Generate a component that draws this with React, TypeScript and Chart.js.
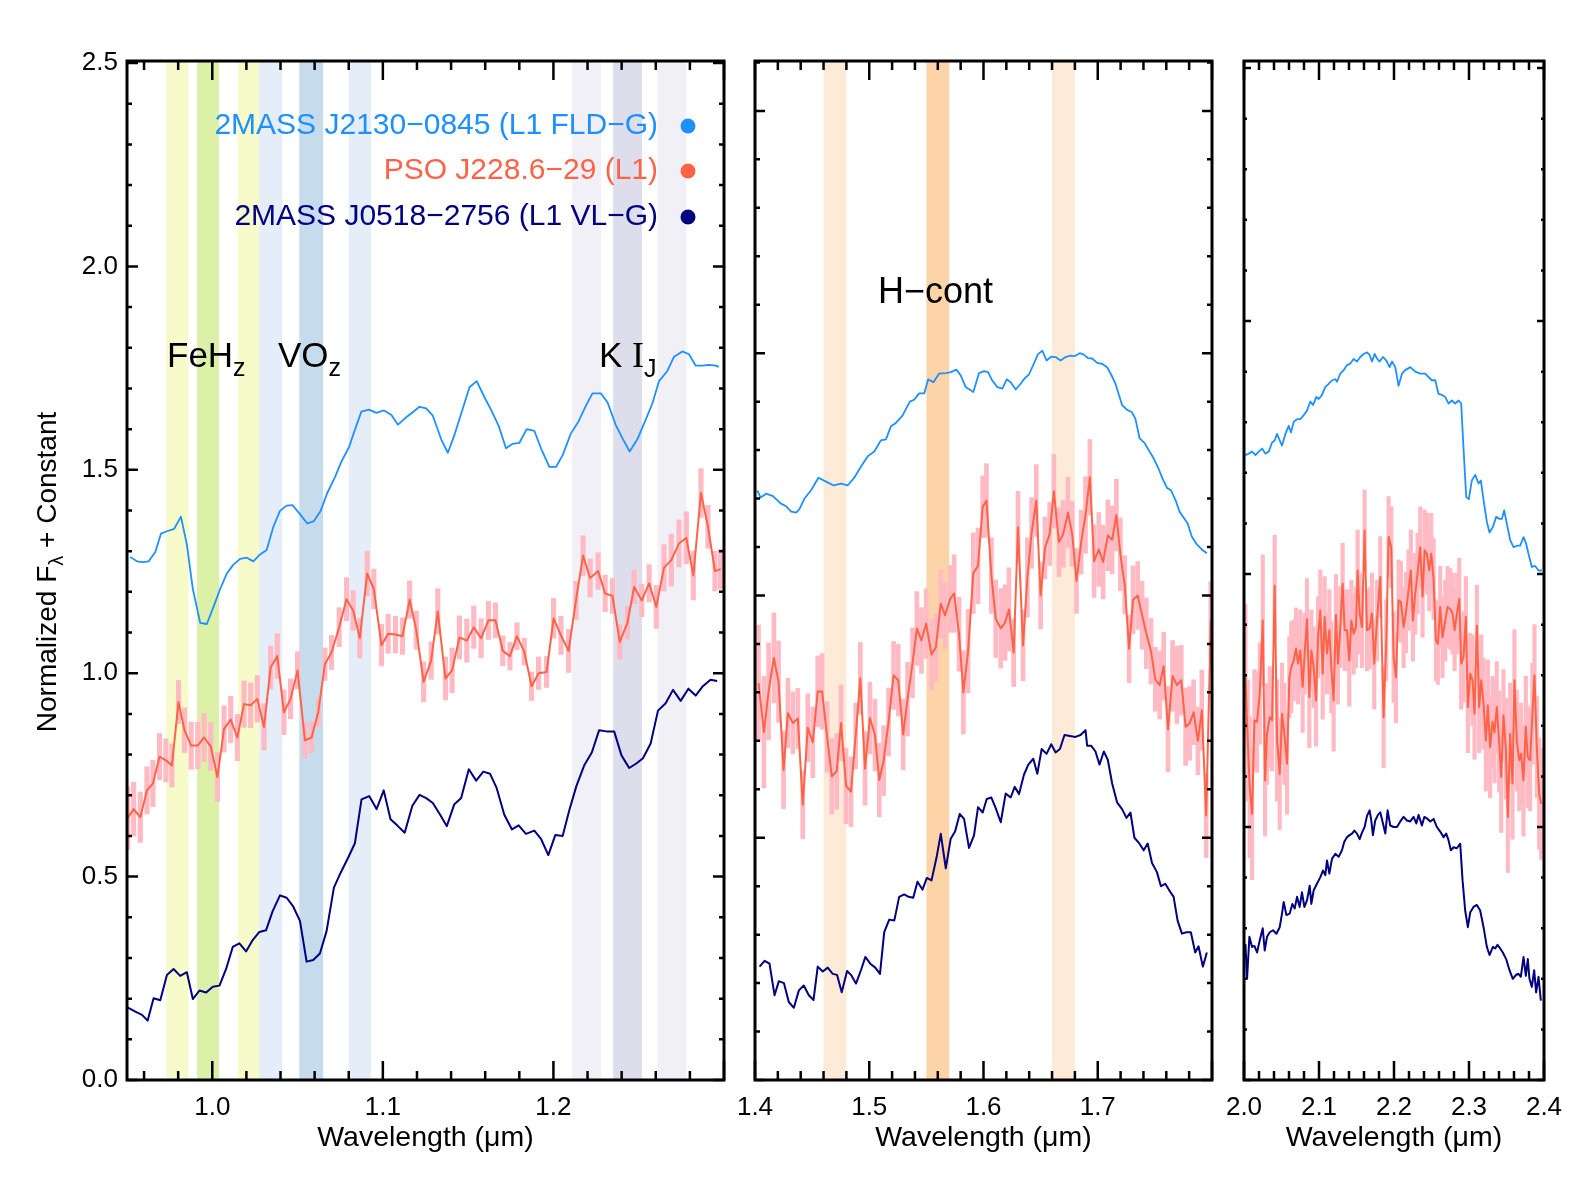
import React, { useEffect, useRef } from 'react';
import { Chart, registerables } from 'chart.js';

Chart.register(...registerables);

// ---------------------------------------------------------------------------
// Spectra: [wavelength (µm), normalized flux + offset]  (red adds [.., error])
// ---------------------------------------------------------------------------

// z/J band, 0.95 - 1.30 µm
const P1_BLUE: number[][] = [
  [0.9519, 1.286], [0.9558, 1.275], [0.9593, 1.273], [0.9627, 1.275], [0.9666, 1.298], [0.9699, 1.343], [0.9734, 1.349], [0.9777, 1.355],
  [0.9816, 1.385], [0.9851, 1.316], [0.9886, 1.207], [0.9929, 1.124], [0.9968, 1.121], [1.0007, 1.163], [1.0046, 1.207], [1.0085, 1.245],
  [1.0124, 1.267], [1.0163, 1.281], [1.0202, 1.284], [1.0241, 1.275], [1.028, 1.292], [1.0319, 1.303], [1.0358, 1.36], [1.0397, 1.399],
  [1.0436, 1.412], [1.0471, 1.413], [1.0514, 1.391], [1.0557, 1.368], [1.0596, 1.374], [1.0635, 1.399], [1.0674, 1.443], [1.0718, 1.481],
  [1.0757, 1.52], [1.0802, 1.556], [1.0835, 1.597], [1.0874, 1.643], [1.0919, 1.648], [1.0962, 1.64], [1.1007, 1.646], [1.105, 1.635],
  [1.1089, 1.611], [1.1128, 1.626], [1.1173, 1.641], [1.1215, 1.655], [1.1254, 1.651], [1.1293, 1.633], [1.1342, 1.575], [1.1381, 1.542],
  [1.142, 1.586], [1.1465, 1.646], [1.1508, 1.703], [1.155, 1.718], [1.1595, 1.679], [1.1634, 1.648], [1.1679, 1.608], [1.1722, 1.553],
  [1.1761, 1.564], [1.18, 1.566], [1.1843, 1.6], [1.1888, 1.596], [1.1927, 1.553], [1.1976, 1.507], [1.2015, 1.507], [1.2054, 1.536],
  [1.2102, 1.589], [1.2147, 1.619], [1.219, 1.657], [1.2229, 1.688], [1.2278, 1.688], [1.2317, 1.666], [1.2366, 1.61], [1.2408, 1.575],
  [1.2447, 1.545], [1.2492, 1.575], [1.2537, 1.619], [1.258, 1.663], [1.2619, 1.718], [1.2668, 1.743], [1.2707, 1.778], [1.2756, 1.791],
  [1.2795, 1.784], [1.2834, 1.756], [1.2873, 1.756], [1.2912, 1.758], [1.2951, 1.756], [1.297, 1.753],
];

const P1_RED: number[][] = [
  [0.9504, 0.644, 0.077], [0.9539, 0.666, 0.066], [0.9578, 0.646, 0.062], [0.9617, 0.712, 0.058], [0.9652, 0.729, 0.057],
  [0.9691, 0.795, 0.057], [0.9728, 0.786, 0.053], [0.9763, 0.773, 0.053], [0.9802, 0.929, 0.053], [0.9837, 0.86, 0.055],
  [0.9876, 0.822, 0.058], [0.9915, 0.822, 0.057], [0.9952, 0.842, 0.059], [0.9991, 0.82, 0.059], [1.003, 0.745, 0.06],
  [1.0069, 0.863, 0.057], [1.0108, 0.886, 0.057], [1.0147, 0.842, 0.057], [1.0186, 0.924, 0.057], [1.0225, 0.921, 0.055],
  [1.0264, 0.937, 0.057], [1.0303, 0.868, 0.057], [1.0342, 1.014, 0.053], [1.0381, 1.042, 0.055], [1.042, 0.904, 0.055],
  [1.0459, 0.937, 0.049], [1.05, 1.007, 0.046], [1.0543, 0.835, 0.044], [1.0582, 0.842, 0.038], [1.0621, 0.904, 0.035],
  [1.066, 1.022, 0.04], [1.0699, 1.051, 0.042], [1.0744, 1.113, 0.048], [1.0787, 1.182, 0.053], [1.0826, 1.154, 0.049],
  [1.0865, 1.086, 0.049], [1.0908, 1.245, 0.055], [1.0947, 1.207, 0.049], [1.0992, 1.069, 0.051], [1.1031, 1.097, 0.048],
  [1.1074, 1.095, 0.045], [1.1115, 1.091, 0.045], [1.1157, 1.181, 0.046], [1.1196, 1.106, 0.047], [1.1239, 0.979, 0.049],
  [1.1283, 1.031, 0.046], [1.1322, 1.152, 0.056], [1.1367, 0.987, 0.053], [1.1406, 1.007, 0.055], [1.1449, 1.088, 0.053],
  [1.1492, 1.08, 0.053], [1.1533, 1.113, 0.052], [1.1576, 1.086, 0.048], [1.1619, 1.13, 0.047], [1.166, 1.13, 0.043],
  [1.1703, 1.055, 0.037], [1.1745, 1.042, 0.034], [1.1786, 1.091, 0.033], [1.1829, 1.053, 0.033], [1.1872, 0.968, 0.035],
  [1.1913, 1.0, 0.04], [1.196, 1.003, 0.038], [1.2001, 1.135, 0.049], [1.2044, 1.093, 0.047], [1.2089, 1.055, 0.053],
  [1.2132, 1.179, 0.047], [1.2174, 1.289, 0.049], [1.2215, 1.234, 0.047], [1.2262, 1.251, 0.045], [1.2303, 1.196, 0.045],
  [1.2346, 1.19, 0.043], [1.2389, 1.077, 0.043], [1.2434, 1.124, 0.04], [1.2473, 1.212, 0.041], [1.2518, 1.179, 0.04],
  [1.2561, 1.221, 0.046], [1.2603, 1.163, 0.053], [1.2648, 1.259, 0.057], [1.2691, 1.278, 0.064], [1.2736, 1.319, 0.058],
  [1.2779, 1.333, 0.064], [1.282, 1.24, 0.06], [1.2865, 1.443, 0.06], [1.2906, 1.36, 0.053], [1.2947, 1.251, 0.049],
  [1.298, 1.256, 0.049],
];

const P1_NAVY: number[][] = [
  [0.95, 0.179], [0.9549, 0.168], [0.9588, 0.16], [0.9621, 0.146], [0.9656, 0.201], [0.9695, 0.196], [0.9734, 0.258], [0.9773, 0.273],
  [0.9812, 0.256], [0.9851, 0.265], [0.9886, 0.199], [0.9925, 0.22], [0.9964, 0.215], [1.0003, 0.229], [1.0042, 0.232], [1.0081, 0.273],
  [1.012, 0.327], [1.0159, 0.336], [1.0198, 0.316], [1.0237, 0.344], [1.0276, 0.364], [1.0315, 0.368], [1.0354, 0.415], [1.0397, 0.454],
  [1.0436, 0.448], [1.0475, 0.426], [1.0514, 0.391], [1.0553, 0.291], [1.0592, 0.295], [1.0631, 0.311], [1.067, 0.366], [1.0713, 0.473],
  [1.0752, 0.509], [1.0797, 0.547], [1.0836, 0.582], [1.0875, 0.69], [1.092, 0.698], [1.0963, 0.666], [1.1005, 0.712], [1.1045, 0.641],
  [1.1084, 0.626], [1.1128, 0.608], [1.1173, 0.674], [1.1215, 0.701], [1.1254, 0.693], [1.1293, 0.681], [1.1336, 0.652], [1.1375, 0.624],
  [1.1418, 0.677], [1.1459, 0.693], [1.1504, 0.764], [1.1547, 0.736], [1.1589, 0.758], [1.1628, 0.753], [1.1667, 0.718], [1.1712, 0.652],
  [1.1757, 0.616], [1.1796, 0.626], [1.1839, 0.605], [1.1888, 0.613], [1.1927, 0.593], [1.197, 0.553], [1.2011, 0.602], [1.2054, 0.6],
  [1.2093, 0.663], [1.2135, 0.723], [1.218, 0.773], [1.2225, 0.805], [1.2268, 0.86], [1.2311, 0.857], [1.2356, 0.857], [1.2399, 0.798],
  [1.2444, 0.767], [1.2486, 0.778], [1.2525, 0.791], [1.257, 0.827], [1.2613, 0.908], [1.2658, 0.926], [1.2701, 0.959], [1.2746, 0.932],
  [1.2791, 0.962], [1.2834, 0.945], [1.2876, 0.968], [1.2921, 0.984], [1.296, 0.981],
];

// H band, 1.4 - 1.8 µm
const P2_BLUE: number[][] = [
  [1.402, 1.217], [1.4049, 1.202], [1.4098, 1.21], [1.4157, 1.205], [1.4224, 1.19], [1.4273, 1.184], [1.4317, 1.173], [1.436, 1.171],
  [1.4389, 1.178], [1.4433, 1.2], [1.4491, 1.217], [1.4555, 1.243], [1.4622, 1.235], [1.4689, 1.227], [1.4753, 1.231], [1.4811, 1.227],
  [1.4869, 1.243], [1.4928, 1.266], [1.4986, 1.287], [1.5044, 1.297], [1.5102, 1.32], [1.5146, 1.322], [1.519, 1.349], [1.5233, 1.356],
  [1.5291, 1.371], [1.5355, 1.4], [1.5393, 1.404], [1.5437, 1.417], [1.5481, 1.417], [1.5516, 1.446], [1.5562, 1.44], [1.5612, 1.458],
  [1.567, 1.459], [1.5713, 1.461], [1.5763, 1.466], [1.5801, 1.454], [1.5844, 1.43], [1.5911, 1.42], [1.5961, 1.459], [1.6005, 1.463],
  [1.604, 1.461], [1.6078, 1.443], [1.6122, 1.43], [1.6165, 1.427], [1.6203, 1.446], [1.6238, 1.44], [1.6282, 1.425], [1.6325, 1.437],
  [1.636, 1.448], [1.6398, 1.456], [1.6442, 1.479], [1.6477, 1.498], [1.6515, 1.505], [1.6552, 1.485], [1.6593, 1.493], [1.6631, 1.492],
  [1.6675, 1.485], [1.6718, 1.492], [1.6762, 1.495], [1.68, 1.494], [1.6843, 1.5], [1.6878, 1.497], [1.6913, 1.49], [1.6951, 1.489],
  [1.6995, 1.48], [1.7038, 1.478], [1.7082, 1.471], [1.7117, 1.456], [1.7155, 1.437], [1.7213, 1.393], [1.7257, 1.383], [1.73, 1.378],
  [1.7329, 1.365], [1.7367, 1.324], [1.7408, 1.315], [1.7446, 1.3], [1.7489, 1.283], [1.7533, 1.261], [1.7571, 1.239], [1.7606, 1.222],
  [1.7641, 1.217], [1.7679, 1.198], [1.7716, 1.173], [1.7757, 1.159], [1.7786, 1.149], [1.7824, 1.121], [1.7868, 1.105], [1.7911, 1.095],
  [1.7955, 1.087],
];

const P2_RED: number[][] = [
  [1.4031, 0.819, 0.12], [1.4078, 0.718, 0.115], [1.4119, 0.802, 0.1], [1.4165, 0.871, 0.093], [1.4206, 0.822, 0.084],
  [1.425, 0.64, 0.08], [1.4288, 0.757, 0.072], [1.4331, 0.737, 0.064], [1.4375, 0.746, 0.062], [1.4418, 0.568, 0.07],
  [1.4462, 0.727, 0.07], [1.4506, 0.697, 0.073], [1.4549, 0.802, 0.073], [1.4587, 0.802, 0.078], [1.4631, 0.708, 0.073],
  [1.4672, 0.627, 0.078], [1.4715, 0.637, 0.078], [1.4753, 0.737, 0.078], [1.4797, 0.607, 0.078], [1.484, 0.595, 0.072],
  [1.4881, 0.71, 0.068], [1.4922, 0.829, 0.074], [1.4963, 0.643, 0.076], [1.5006, 0.747, 0.074], [1.505, 0.712, 0.074],
  [1.5088, 0.619, 0.076], [1.5126, 0.659, 0.072], [1.5169, 0.739, 0.07], [1.5213, 0.835, 0.07], [1.5254, 0.825, 0.074],
  [1.5297, 0.713, 0.073], [1.5335, 0.786, 0.076], [1.5379, 0.861, 0.072], [1.5417, 0.932, 0.076], [1.5457, 0.907, 0.068],
  [1.5498, 0.942, 0.072], [1.5545, 0.878, 0.073], [1.5583, 0.893, 0.07], [1.5626, 0.983, 0.07], [1.5664, 0.959, 0.068],
  [1.5708, 0.993, 0.069], [1.5743, 1.004, 0.08], [1.5786, 0.92, 0.076], [1.5824, 0.8, 0.086], [1.5865, 0.885, 0.086],
  [1.5911, 1.046, 0.083], [1.5952, 1.061, 0.078], [1.5993, 1.183, 0.064], [1.6026, 1.196, 0.076], [1.6069, 1.041, 0.078],
  [1.6107, 0.952, 0.08], [1.6151, 0.932, 0.082], [1.6189, 0.944, 0.078], [1.6223, 0.971, 0.086], [1.6264, 0.882, 0.07],
  [1.6302, 1.141, 0.074], [1.6346, 0.897, 0.073], [1.6384, 1.037, 0.082], [1.6421, 1.129, 0.073], [1.6462, 1.196, 0.074],
  [1.65, 1.0, 0.069], [1.6538, 1.098, 0.064], [1.6579, 1.127, 0.065], [1.6616, 1.215, 0.076], [1.666, 1.11, 0.071],
  [1.6698, 1.127, 0.069], [1.6739, 1.171, 0.073], [1.6776, 1.127, 0.067], [1.6814, 1.03, 0.067], [1.6855, 1.11, 0.066],
  [1.6893, 1.166, 0.079], [1.6931, 1.244, 0.078], [1.6968, 1.071, 0.075], [1.7009, 1.095, 0.076], [1.7047, 1.069, 0.076],
  [1.7088, 1.124, 0.073], [1.7126, 1.115, 0.07], [1.7163, 1.166, 0.074], [1.7198, 1.085, 0.075], [1.7236, 1.022, 0.06],
  [1.7274, 0.89, 0.07], [1.7309, 0.991, 0.07], [1.735, 1.0, 0.07], [1.7388, 0.959, 0.07], [1.7425, 0.922, 0.073],
  [1.7466, 0.885, 0.068], [1.7504, 0.827, 0.066], [1.7542, 0.815, 0.07], [1.7577, 0.854, 0.07], [1.7615, 0.724, 0.088],
  [1.7655, 0.834, 0.073], [1.7693, 0.815, 0.08], [1.7731, 0.825, 0.072], [1.7769, 0.729, 0.08], [1.7804, 0.736, 0.076],
  [1.7839, 0.759, 0.067], [1.7877, 0.7, 0.07], [1.7911, 0.763, 0.083], [1.7949, 0.546, 0.087], [1.799, 0.95, 0.078],
];

const P2_NAVY: number[][] = [
  [1.404, 0.234], [1.4084, 0.246], [1.4127, 0.24], [1.4171, 0.175], [1.4209, 0.204], [1.4253, 0.2], [1.4296, 0.161], [1.434, 0.149],
  [1.4384, 0.185], [1.4427, 0.195], [1.4471, 0.175], [1.4512, 0.165], [1.4549, 0.234], [1.4593, 0.224], [1.4637, 0.232], [1.468, 0.219],
  [1.4718, 0.217], [1.4759, 0.181], [1.4806, 0.225], [1.484, 0.217], [1.4884, 0.199], [1.4928, 0.227], [1.4966, 0.254], [1.5009, 0.24],
  [1.5053, 0.232], [1.5094, 0.219], [1.5131, 0.305], [1.5175, 0.331], [1.5219, 0.329], [1.5262, 0.378], [1.5306, 0.383], [1.5344, 0.378],
  [1.5385, 0.376], [1.5422, 0.409], [1.5466, 0.393], [1.5504, 0.417], [1.5545, 0.412], [1.5588, 0.458], [1.5626, 0.508], [1.567, 0.437],
  [1.5713, 0.498], [1.5751, 0.513], [1.5792, 0.549], [1.583, 0.539], [1.5873, 0.479], [1.5917, 0.505], [1.5952, 0.563], [1.5993, 0.552],
  [1.6028, 0.58], [1.6069, 0.583], [1.6107, 0.561], [1.6151, 0.532], [1.6194, 0.591], [1.6238, 0.583], [1.6273, 0.605], [1.6311, 0.59],
  [1.6354, 0.63], [1.6392, 0.651], [1.6436, 0.663], [1.6471, 0.632], [1.6509, 0.683], [1.6552, 0.673], [1.6593, 0.693], [1.6631, 0.676],
  [1.6669, 0.683], [1.6709, 0.712], [1.6756, 0.71], [1.6805, 0.708], [1.6849, 0.712], [1.6893, 0.722], [1.6907, 0.69], [1.6942, 0.69],
  [1.698, 0.678], [1.7015, 0.651], [1.7053, 0.678], [1.7088, 0.661], [1.7126, 0.612], [1.7169, 0.573], [1.7213, 0.559], [1.7251, 0.541],
  [1.7286, 0.552], [1.7321, 0.5], [1.7358, 0.49], [1.7402, 0.474], [1.7437, 0.488], [1.7475, 0.448], [1.7518, 0.429], [1.7553, 0.4],
  [1.7591, 0.405], [1.7635, 0.388], [1.7664, 0.378], [1.7699, 0.329], [1.7737, 0.302], [1.7775, 0.305], [1.7815, 0.305], [1.7853, 0.263],
  [1.7882, 0.276], [1.792, 0.234], [1.7955, 0.263],
];

// K band, 2.0 - 2.4 µm
const P3_BLUE: number[][] = [
  [2.0019, 1.235], [2.0063, 1.238], [2.0108, 1.242], [2.0152, 1.235], [2.0196, 1.242], [2.0241, 1.248], [2.0285, 1.238], [2.033, 1.242],
  [2.0374, 1.26], [2.0409, 1.264], [2.0441, 1.277], [2.0476, 1.264], [2.0507, 1.254], [2.0552, 1.277], [2.0596, 1.293], [2.0627, 1.28],
  [2.0663, 1.301], [2.0707, 1.306], [2.0751, 1.306], [2.0796, 1.314], [2.084, 1.323], [2.0885, 1.341], [2.092, 1.334], [2.0965, 1.35],
  [2.0996, 1.346], [2.104, 1.354], [2.1084, 1.37], [2.1129, 1.376], [2.1173, 1.383], [2.1218, 1.385], [2.124, 1.38], [2.1284, 1.396],
  [2.1329, 1.403], [2.1373, 1.413], [2.1417, 1.416], [2.1462, 1.425], [2.1506, 1.42], [2.1551, 1.429], [2.1595, 1.435], [2.164, 1.438],
  [2.1675, 1.433], [2.1706, 1.42], [2.1742, 1.435], [2.1773, 1.426], [2.1808, 1.42], [2.1853, 1.429], [2.1897, 1.422], [2.1942, 1.409],
  [2.1973, 1.42], [2.2017, 1.409], [2.2061, 1.372], [2.2106, 1.396], [2.215, 1.403], [2.2217, 1.409], [2.2283, 1.4], [2.235, 1.396],
  [2.2417, 1.396], [2.2461, 1.389], [2.2505, 1.383], [2.255, 1.383], [2.2594, 1.356], [2.2639, 1.354], [2.2683, 1.35], [2.2727, 1.337],
  [2.2772, 1.343], [2.2816, 1.337], [2.2861, 1.343], [2.2896, 1.337], [2.2927, 1.248], [2.2963, 1.152], [2.2998, 1.148], [2.3038, 1.185],
  [2.3083, 1.196], [2.3127, 1.179], [2.3158, 1.185], [2.3194, 1.146], [2.3238, 1.103], [2.3274, 1.082], [2.3318, 1.093], [2.3362, 1.113],
  [2.3407, 1.109], [2.3438, 1.109], [2.3469, 1.126], [2.3505, 1.099], [2.3549, 1.067], [2.3594, 1.053], [2.3638, 1.056], [2.3682, 1.056],
  [2.3727, 1.073], [2.3762, 1.06], [2.3793, 1.04], [2.3838, 1.014], [2.3882, 1.016], [2.3927, 1.007], [2.3971, 1.007],
];

const P3_RED: number[][] = [
  [2.0019, 0.8, 0.14], [2.005, 0.671, 0.12], [2.0076, 0.579, 0.14], [2.0108, 0.526, 0.13], [2.0139, 0.711, 0.1], [2.0174, 0.708, 0.1],
  [2.021, 0.764, 0.1], [2.025, 0.908, 0.13], [2.0281, 0.592, 0.11], [2.0307, 0.684, 0.1], [2.0343, 0.717, 0.1], [2.0374, 0.711, 0.1],
  [2.0409, 0.977, 0.1], [2.0441, 0.671, 0.12], [2.0476, 0.605, 0.11], [2.0507, 0.724, 0.1], [2.0538, 0.684, 0.1], [2.0574, 0.625, 0.1],
  [2.0605, 0.796, 0.08], [2.0631, 0.816, 0.09], [2.0663, 0.829, 0.08], [2.0694, 0.853, 0.08], [2.072, 0.823, 0.08], [2.0751, 0.849, 0.08],
  [2.0782, 0.777, 0.09], [2.0809, 0.843, 0.08], [2.084, 0.911, 0.08], [2.0871, 0.757, 0.1], [2.0898, 0.849, 0.08], [2.0929, 0.816, 0.08],
  [2.096, 0.75, 0.09], [2.0987, 0.875, 0.08], [2.1018, 0.928, 0.08], [2.1049, 0.803, 0.09], [2.1075, 0.915, 0.08], [2.1107, 0.843, 0.08],
  [2.1138, 0.889, 0.08], [2.1164, 0.816, 0.09], [2.1195, 0.75, 0.1], [2.1226, 0.919, 0.08], [2.1253, 0.823, 0.08], [2.1284, 0.895, 0.08],
  [2.1315, 0.981, 0.08], [2.1342, 0.889, 0.08], [2.1373, 0.889, 0.08], [2.1404, 0.829, 0.09], [2.1431, 0.908, 0.08], [2.1462, 0.882, 0.08],
  [2.1493, 0.895, 0.08], [2.1515, 1.007, 0.08], [2.1542, 0.922, 0.08], [2.1573, 0.895, 0.08], [2.1608, 1.086, 0.08], [2.164, 0.889, 0.08],
  [2.1675, 0.893, 0.08], [2.1706, 0.922, 0.08], [2.1737, 0.823, 0.09], [2.1773, 0.908, 0.08], [2.1817, 0.994, 0.08], [2.1861, 0.717, 0.1],
  [2.1897, 0.869, 0.08], [2.1928, 1.073, 0.08], [2.1963, 1.053, 0.08], [2.1995, 0.836, 0.09], [2.2026, 0.796, 0.09], [2.2061, 0.948, 0.08],
  [2.2092, 0.945, 0.08], [2.2128, 0.895, 0.08], [2.2159, 0.924, 0.08], [2.2194, 0.968, 0.08], [2.2225, 1.007, 0.08], [2.2252, 0.908, 0.08],
  [2.2283, 0.961, 0.08], [2.2314, 1.001, 0.08], [2.235, 1.053, 0.08], [2.2381, 0.955, 0.08], [2.2408, 1.047, 0.08], [2.2439, 1.04, 0.08],
  [2.247, 1.007, 0.08], [2.2497, 1.04, 0.08], [2.2528, 0.99, 0.08], [2.2559, 0.869, 0.08], [2.2585, 0.862, 0.08], [2.2616, 0.935, 0.08],
  [2.2647, 0.875, 0.08], [2.2683, 0.908, 0.08], [2.2714, 0.935, 0.08], [2.275, 0.931, 0.08], [2.2781, 0.922, 0.08], [2.2808, 0.889, 0.08],
  [2.2839, 0.922, 0.08], [2.287, 0.951, 0.08], [2.2896, 0.823, 0.09], [2.2927, 0.836, 0.09], [2.2958, 0.915, 0.08], [2.2985, 0.737, 0.09],
  [2.3016, 0.803, 0.08], [2.3047, 0.79, 0.09], [2.3074, 0.724, 0.09], [2.3105, 0.898, 0.08], [2.3136, 0.737, 0.09], [2.3163, 0.79, 0.09],
  [2.3194, 0.744, 0.09], [2.3225, 0.671, 0.1], [2.3251, 0.74, 0.09], [2.3282, 0.658, 0.1], [2.3314, 0.708, 0.09], [2.334, 0.687, 0.1],
  [2.3371, 0.737, 0.09], [2.3402, 0.669, 0.1], [2.3429, 0.599, 0.11], [2.346, 0.721, 0.09], [2.3491, 0.655, 0.1], [2.3518, 0.52, 0.11],
  [2.3549, 0.684, 0.1], [2.358, 0.586, 0.11], [2.3606, 0.79, 0.1], [2.3637, 0.671, 0.1], [2.3669, 0.632, 0.1], [2.3695, 0.645, 0.1],
  [2.3726, 0.592, 0.11], [2.3757, 0.698, 0.1], [2.3784, 0.638, 0.1], [2.3815, 0.632, 0.1], [2.3846, 0.724, 0.1], [2.3873, 0.8, 0.1],
  [2.3904, 0.658, 0.1], [2.3935, 0.566, 0.11], [2.3962, 0.546, 0.11],
];

const P3_NAVY: number[][] = [
  [2.0019, 0.269], [2.0041, 0.2], [2.0072, 0.283], [2.0107, 0.263], [2.0139, 0.265], [2.0174, 0.252], [2.021, 0.276], [2.025, 0.3],
  [2.0276, 0.256], [2.0307, 0.283], [2.0343, 0.292], [2.0387, 0.296], [2.0432, 0.289], [2.0476, 0.302], [2.0507, 0.329], [2.0529, 0.352],
  [2.0565, 0.326], [2.0609, 0.329], [2.0645, 0.348], [2.0676, 0.339], [2.0707, 0.362], [2.0742, 0.342], [2.0773, 0.371], [2.0805, 0.342],
  [2.084, 0.355], [2.0876, 0.384], [2.0898, 0.348], [2.0929, 0.375], [2.0973, 0.388], [2.1018, 0.401], [2.1053, 0.414], [2.1084, 0.405],
  [2.1107, 0.434], [2.1138, 0.408], [2.1173, 0.437], [2.1218, 0.447], [2.1262, 0.441], [2.1306, 0.454], [2.1337, 0.471], [2.1373, 0.48],
  [2.1408, 0.484], [2.144, 0.487], [2.1471, 0.493], [2.1506, 0.487], [2.1542, 0.476], [2.1573, 0.489], [2.1608, 0.5], [2.164, 0.522],
  [2.1675, 0.533], [2.1697, 0.513], [2.1719, 0.484], [2.175, 0.513], [2.1786, 0.524], [2.1817, 0.529], [2.1853, 0.507], [2.1884, 0.487],
  [2.1915, 0.533], [2.195, 0.503], [2.1995, 0.5], [2.2039, 0.5], [2.2084, 0.511], [2.2128, 0.52], [2.2172, 0.513], [2.2217, 0.511],
  [2.2261, 0.52], [2.2297, 0.507], [2.2328, 0.524], [2.2372, 0.503], [2.2404, 0.52], [2.2448, 0.516], [2.2483, 0.511], [2.2528, 0.516],
  [2.2572, 0.5], [2.2616, 0.491], [2.2661, 0.48], [2.2696, 0.487], [2.2727, 0.474], [2.2758, 0.454], [2.2794, 0.46], [2.2838, 0.458],
  [2.2883, 0.467], [2.2914, 0.395], [2.2949, 0.335], [2.2985, 0.302], [2.3016, 0.331], [2.306, 0.342], [2.3105, 0.346], [2.3149, 0.335],
  [2.3194, 0.302], [2.3238, 0.263], [2.3274, 0.247], [2.3318, 0.263], [2.3349, 0.26], [2.338, 0.267], [2.3416, 0.26], [2.3451, 0.252],
  [2.3495, 0.239], [2.354, 0.217], [2.3584, 0.2], [2.3629, 0.208], [2.366, 0.21], [2.3691, 0.204], [2.3727, 0.243], [2.3758, 0.206],
  [2.3784, 0.239], [2.3806, 0.2], [2.3838, 0.184], [2.3869, 0.217], [2.3895, 0.173], [2.3927, 0.204], [2.3958, 0.157],
];

// Index windows (µm): FeH_z, VO_z, K I_J, H-cont
const FEH_BANDS = [[0.973, 0.986], [0.991, 1.004], [1.015, 1.0275]];
const VO_BANDS = [[1.0275, 1.041], [1.051, 1.065], [1.08, 1.093]];
const KI_BANDS = [[1.211, 1.228], [1.235, 1.252], [1.261, 1.278]];
const HCONT_BANDS = [[1.46, 1.48], [1.55, 1.57], [1.66, 1.68]];

// Axis tick labels
const P1_X_LABELS = [1.0, 1.1, 1.2];
const P2_X_LABELS = [1.4, 1.5, 1.6, 1.7];
const P3_X_LABELS = [2.0, 2.1, 2.2, 2.3, 2.4];
const P1_Y_LABELS = [0.0, 0.5, 1.0, 1.5, 2.0, 2.5];

const LEGEND_NAMES = ['2MASS J2130\u22120845 (L1 FLD\u2212G)', 'PSO J228.6\u221229 (L1)', '2MASS J0518\u22122756 (L1 VL\u2212G)'];

// ---------------------------------------------------------------------------
// Styling
// ---------------------------------------------------------------------------
const SANS = '"Liberation Sans", Arial, Helvetica, sans-serif';
const SERIF = '"Liberation Serif", "Times New Roman", serif';
const BLUE = '#1E90FF';
const RED = '#FF6347';
const NAVY = '#000080';
const PINK = 'rgb(255,186,196)';
const LEGEND_COLORS = [BLUE, RED, NAVY];

const YELLOW = 'rgb(247,250,201)';
const GREEN = 'rgb(221,240,168)';
const LBLUE = 'rgb(229,238,248)';
const MBLUE = 'rgb(198,220,237)';
const LPURPLE = 'rgb(242,240,247)';
const MPURPLE = 'rgb(221,221,235)';
const LORANGE = 'rgb(253,235,216)';
const MORANGE = 'rgb(253,212,168)';

const PAGE_W = 1575;
const PAGE_H = 1200;

type Area = { left: number; right: number; top: number; bottom: number };

interface PanelSpec {
  area: Area;
  yAxisWidth: number;
  xMin: number;
  xMax: number;
  xLabels: number[];
  yMax: number;
  yLabels: number[] | null;
  yTickLen: [number, number];
  bands: number[][];
  bandColors: string[];
  blue: number[][];
  red: number[][];
  navy: number[][];
  errWidth: number;
  decorate?: (ctx: CanvasRenderingContext2D) => void;
}

type Part = { text: string; font: string; dy: number };

function drawParts(ctx: CanvasRenderingContext2D, parts: Part[], x: number, y: number) {
  let cx = x;
  for (const p of parts) {
    ctx.font = p.font;
    ctx.fillText(p.text, cx, y + p.dy);
    cx += ctx.measureText(p.text).width;
  }
}

function partsWidth(ctx: CanvasRenderingContext2D, parts: Part[]) {
  let w = 0;
  for (const p of parts) {
    ctx.font = p.font;
    w += ctx.measureText(p.text).width;
  }
  return w;
}

// Legend, band labels and y-axis title of the left panel
function decorateLeft(ctx: CanvasRenderingContext2D) {
  ctx.save();
  ctx.textAlign = 'right';
  ctx.textBaseline = 'middle';
  const rows = [126, 171, 217];
  LEGEND_NAMES.forEach((name, i) => {
    ctx.font = `30px ${SANS}`;
    ctx.fillStyle = LEGEND_COLORS[i];
    ctx.fillText(name, 658, rows[i]);
    ctx.beginPath();
    ctx.arc(688, rows[i], 7.5, 0, Math.PI * 2);
    ctx.fill();
  });

  ctx.textAlign = 'left';
  ctx.textBaseline = 'alphabetic';
  ctx.fillStyle = '#000';
  const big = `35px ${SANS}`;
  const sub = `25px ${SANS}`;
  drawParts(ctx, [{ text: 'FeH', font: big, dy: 0 }, { text: 'z', font: sub, dy: 9 }], 167, 367);
  drawParts(ctx, [{ text: 'VO', font: big, dy: 0 }, { text: 'z', font: sub, dy: 9 }], 278, 367);
  drawParts(ctx, [
    { text: 'K ', font: big, dy: 0 },
    { text: 'I', font: `36px ${SERIF}`, dy: 0 },
    { text: 'J', font: sub, dy: 10 },
  ], 599, 367);

  // rotated y-axis title with a subscript lambda
  const tParts: Part[] = [
    { text: 'Normalized F', font: `28px ${SANS}`, dy: 0 },
    { text: '\u03bb', font: `20px ${SANS}`, dy: 7 },
    { text: ' + Constant', font: `28px ${SANS}`, dy: 0 },
  ];
  ctx.translate(56, 572);
  ctx.rotate(-Math.PI / 2);
  const w = partsWidth(ctx, tParts);
  drawParts(ctx, tParts, -w / 2, 0);
  ctx.restore();
}

function decorateMiddle(ctx: CanvasRenderingContext2D) {
  ctx.save();
  ctx.fillStyle = '#000';
  ctx.textAlign = 'left';
  ctx.textBaseline = 'alphabetic';
  ctx.font = `36px ${SANS}`;
  ctx.fillText('H\u2212cont', 878, 303);
  ctx.restore();
}

const PANELS: PanelSpec[] = [
  {
    area: { left: 127, right: 724, top: 61, bottom: 1080 },
    yAxisWidth: 100,
    xMin: 0.95,
    xMax: 1.3,
    xLabels: P1_X_LABELS,
    yMax: 2.505,
    yLabels: P1_Y_LABELS,
    yTickLen: [11, 5],
    bands: [...FEH_BANDS, ...VO_BANDS, ...KI_BANDS],
    bandColors: [YELLOW, GREEN, YELLOW, LBLUE, MBLUE, LBLUE, LPURPLE, MPURPLE, LPURPLE],
    blue: P1_BLUE,
    red: P1_RED,
    navy: P1_NAVY,
    errWidth: 4.5,
    decorate: decorateLeft,
  },
  {
    area: { left: 755, right: 1212, top: 61, bottom: 1080 },
    yAxisWidth: 10,
    xMin: 1.4,
    xMax: 1.8,
    xLabels: P2_X_LABELS,
    yMax: 2.103,
    yLabels: null,
    yTickLen: [10, 5],
    bands: HCONT_BANDS,
    bandColors: [LORANGE, MORANGE, LORANGE],
    blue: P2_BLUE,
    red: P2_RED,
    navy: P2_NAVY,
    errWidth: 4,
    decorate: decorateMiddle,
  },
  {
    area: { left: 1244, right: 1544, top: 61, bottom: 1080 },
    yAxisWidth: 10,
    xMin: 2.0,
    xMax: 2.4,
    xLabels: P3_X_LABELS,
    yMax: 2.014,
    yLabels: null,
    yTickLen: [7, 3],
    bands: [],
    bandColors: [],
    blue: P3_BLUE,
    red: P3_RED,
    navy: P3_NAVY,
    errWidth: 3.5,
  },
];

// Shaded index windows under the spectra, inward ticks on all four sides and the frame on top
function framePlugin(spec: PanelSpec) {
  return {
    id: 'panelFrame',
    beforeDatasetsDraw(chart: any) {
      const { ctx, chartArea: a, scales } = chart;
      const xs = scales.x;
      ctx.save();
      ctx.beginPath();
      ctx.rect(a.left, a.top, a.right - a.left, a.bottom - a.top);
      ctx.clip();
      spec.bands.forEach(([lo, hi], i) => {
        const x0 = xs.getPixelForValue(lo);
        const x1 = xs.getPixelForValue(hi);
        ctx.fillStyle = spec.bandColors[i];
        ctx.fillRect(x0, a.top, x1 - x0, a.bottom - a.top);
      });
      ctx.restore();
    },
    afterDatasetsDraw(chart: any) {
      const { ctx, chartArea: a, scales } = chart;
      const xs = scales.x;
      const ys = scales.y;
      ctx.save();
      ctx.strokeStyle = '#000';
      ctx.lineWidth = 2.5;
      ctx.lineCap = 'butt';
      ctx.beginPath();
      const xStep = 0.02;
      const k0 = Math.ceil(spec.xMin / xStep - 1e-6);
      const k1 = Math.floor(spec.xMax / xStep + 1e-6);
      for (let k = k0; k <= k1; k++) {
        const px = xs.getPixelForValue(k * xStep);
        const len = k % 5 === 0 ? 19 : 9;
        ctx.moveTo(px, a.bottom);
        ctx.lineTo(px, a.bottom - len);
        ctx.moveTo(px, a.top);
        ctx.lineTo(px, a.top + len);
      }
      const yStep = 0.1;
      const j1 = Math.floor(spec.yMax / yStep + 1e-6);
      for (let j = 0; j <= j1; j++) {
        const py = ys.getPixelForValue(j * yStep);
        const len = j % 5 === 0 ? spec.yTickLen[0] : spec.yTickLen[1];
        ctx.moveTo(a.left, py);
        ctx.lineTo(a.left + len, py);
        ctx.moveTo(a.right, py);
        ctx.lineTo(a.right - len, py);
      }
      ctx.stroke();
      ctx.lineWidth = 3;
      ctx.lineJoin = 'miter';
      ctx.strokeRect(a.left, a.top, a.right - a.left, a.bottom - a.top);
      ctx.restore();
    },
    afterDraw(chart: any) {
      if (spec.decorate) spec.decorate(chart.ctx);
    },
  };
}

function buildConfig(spec: PanelSpec): any {
  const toXY = (rows: number[][]) => rows.map((r) => ({ x: r[0], y: r[1] }));
  const errBars = spec.red.map((r) => ({ x: r[0], y: [r[1] - r[2], r[1] + r[2]] }));
  const tickFont = { family: SANS, size: 26 };
  const lineDefaults = { pointRadius: 0, tension: 0, fill: false, borderJoinStyle: 'round' };

  return {
    type: 'line',
    data: {
      datasets: [
        { ...lineDefaults, type: 'line', label: 'PSO J228.6\u221229', data: toXY(spec.red), borderColor: RED, borderWidth: 2, order: 1 },
        { ...lineDefaults, type: 'line', label: '2MASS J2130\u22120845', data: toXY(spec.blue), borderColor: BLUE, borderWidth: 1.8, order: 2 },
        { ...lineDefaults, type: 'line', label: '2MASS J0518\u22122756', data: toXY(spec.navy), borderColor: NAVY, borderWidth: 2, order: 3 },
        {
          type: 'bar',
          label: 'PSO J228.6\u221229 error',
          data: errBars,
          backgroundColor: PINK,
          borderWidth: 0,
          barThickness: spec.errWidth,
          order: 9,
        },
      ],
    },
    options: {
      responsive: false,
      maintainAspectRatio: false,
      animation: false,
      devicePixelRatio: 1,
      events: [],
      layout: {
        padding: {
          left: spec.area.left - spec.yAxisWidth,
          right: PAGE_W - spec.area.right,
          top: spec.area.top,
          bottom: PAGE_H - spec.area.bottom - 100,
        },
      },
      plugins: {
        legend: { display: false },
        tooltip: { enabled: false },
        title: { display: false },
      },
      scales: {
        x: {
          type: 'linear',
          min: spec.xMin,
          max: spec.xMax,
          offset: false,
          grid: { display: false, drawTicks: false },
          border: { display: false },
          afterBuildTicks: (axis: any) => {
            axis.ticks = spec.xLabels.map((value) => ({ value }));
          },
          afterFit: (axis: any) => {
            axis.height = 100;
          },
          ticks: {
            autoSkip: false,
            maxRotation: 0,
            minRotation: 0,
            padding: 12,
            color: '#000',
            font: tickFont,
            callback: (v: any) => Number(v).toFixed(1),
          },
          title: {
            display: true,
            text: 'Wavelength (\u03bcm)',
            color: '#000',
            font: { family: SANS, size: 28.5 },
            padding: { top: 0, bottom: 25 },
          },
        },
        y: {
          type: 'linear',
          min: 0,
          max: spec.yMax,
          grid: { display: false, drawTicks: false },
          border: { display: false },
          afterBuildTicks: (axis: any) => {
            axis.ticks = (spec.yLabels || [0]).map((value) => ({ value }));
          },
          afterFit: (axis: any) => {
            axis.width = spec.yAxisWidth;
          },
          ticks: {
            display: !!spec.yLabels,
            autoSkip: false,
            padding: 9,
            color: '#000',
            font: tickFont,
            callback: (v: any) => Number(v).toFixed(1),
          },
        },
      },
    },
    plugins: [framePlugin(spec)],
  };
}

function Panel({ spec }: { spec: PanelSpec }) {
  const ref = useRef<HTMLCanvasElement>(null);
  useEffect(() => {
    if (!ref.current) return;
    const chart = new Chart(ref.current, buildConfig(spec));
    return () => chart.destroy();
  }, [spec]);
  return (
    <canvas
      ref={ref}
      width={PAGE_W}
      height={PAGE_H}
      style={{ position: 'absolute', left: 0, top: 0, width: PAGE_W, height: PAGE_H }}
    />
  );
}

export default function App() {
  return (
    <div style={{ position: 'absolute', left: 0, top: 0, width: PAGE_W, height: PAGE_H, background: '#fff' }}>
      {PANELS.map((spec, i) => (
        <Panel key={i} spec={spec} />
      ))}
    </div>
  );
}
